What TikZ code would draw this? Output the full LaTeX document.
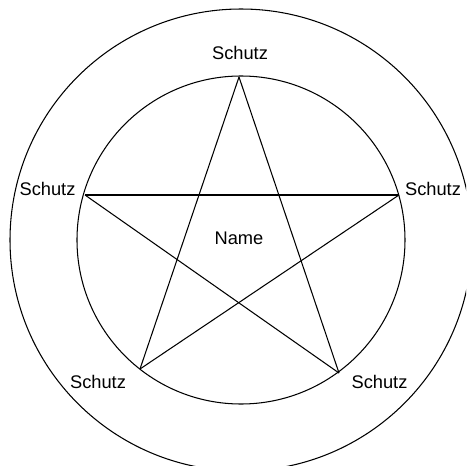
\documentclass[tikz,border=0pt]{standalone}
\usepackage{fontspec}
\setmainfont{Liberation Sans}
\usetikzlibrary{positioning}

\begin{document}
\begin{tikzpicture}[
			ring/.style={
				draw=black,
				line width=0.6pt
			},
			starline/.style={
				draw=black,
				line width=0.6pt
			},
			schutzlabel/.style={
				inner sep=0pt,
				font=\fontsize{10.4}{12}\selectfont
			}
		]
			
			\clip (-4.82,-4.52) rectangle (4.50,4.80);
			
			\coordinate (centre) at (0,0);
			\draw[ring] (centre) circle (4.62);
			\draw[ring] (centre) circle (3.28);
			
			\coordinate (top) at (-0.04,3.26);
			\coordinate (right) at (3.16,0.90);
			\coordinate (left) at (-3.12,0.90);
			\coordinate (botleft) at (-2.02,-2.58);
			\coordinate (botright) at (1.96,-2.66);
			
			\draw[starline] (top) -- (botleft);
			\draw[starline] (botleft) -- (right);
			\draw[starline] (right) -- (left);
			\draw[starline] (left) -- (botright);
			\draw[starline] (botright) -- (top);
			
			\node[schutzlabel] (stop) at (-0.02,3.74) {Schutz};
			\node[schutzlabel] (sleft) at (-3.87,1.02) {Schutz};
			\node[schutzlabel] (sright) at (3.84,1.02) {Schutz};
			\node[schutzlabel] (sbotleft) at (-2.86,-2.84) {Schutz};
			\node[schutzlabel] (sbotright) at (2.77,-2.84) {Schutz};
			\node[schutzlabel] (name) at (-0.04,0.04) {Name};
			
		\end{tikzpicture}
\end{document}
